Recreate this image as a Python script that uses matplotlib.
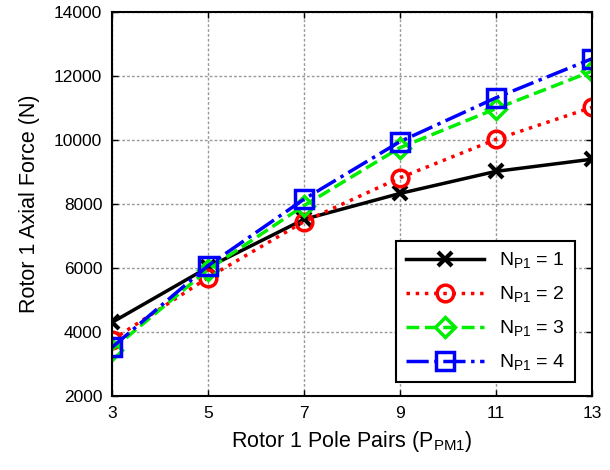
import matplotlib
matplotlib.use("Agg")
import matplotlib.pyplot as plt

plt.rcParams['font.family'] = ['Liberation Sans', 'DejaVu Sans']
plt.rcParams['mathtext.fontset'] = 'custom'
plt.rcParams['mathtext.rm'] = 'Liberation Sans'

pole_pairs = [3, 5, 7, 9, 11, 13]
force_np1 = [4300, 6020, 7520, 8330, 9020, 9400]
force_np2 = [3750, 5700, 7450, 8820, 10020, 11020]
force_np3 = [3450, 5950, 7950, 9760, 10980, 12150]
force_np4 = [3520, 6070, 8150, 9950, 11320, 12540]
labels = ['N$_\\mathregular{P1}$ = 1', 'N$_\\mathregular{P1}$ = 2',
          'N$_\\mathregular{P1}$ = 3', 'N$_\\mathregular{P1}$ = 4']
xticks = [3, 5, 7, 9, 11, 13]
yticks = [2000, 4000, 6000, 8000, 10000, 12000, 14000]

fig = plt.figure(figsize=(6.1, 4.7), dpi=100)
ax = fig.add_axes([112/610, 1-396/470, (592-112)/610, (396-12)/470])

styles = [
    dict(color='black', linestyle='-', marker='x', markersize=10, mew=3),
    dict(color='red', linestyle=':', marker='o', markersize=12, mew=2.5, mfc='none'),
    dict(color='#00ee00', linestyle='--', marker='D', markersize=10, mew=2.5, mfc='none'),
    dict(color='blue', linestyle='-.', marker='s', markersize=13, mew=2.5, mfc='none'),
]
series = [force_np1, force_np2, force_np3, force_np4]
for vals, lab, st in zip(series, labels, styles):
    ax.plot(pole_pairs, vals, linewidth=2.5, label=lab, **st)

ax.set_xlim(3, 13)
ax.set_ylim(2000, 14000)
ax.set_xticks(xticks)
ax.set_yticks(yticks)
ax.grid(True, color='#999999', linestyle=(0, (2, 1.5)), linewidth=1.0)
ax.tick_params(direction='in', top=True, right=True, labelsize=12.5, length=4, width=1, pad=7)
for s in ax.spines.values():
    s.set_linewidth(1.5)
ax.set_xlabel('Rotor 1 Pole Pairs (P$_\\mathregular{PM1}$)', fontsize=15.5, labelpad=6)
ax.set_ylabel('Rotor 1 Axial Force (N)', fontsize=15.5, labelpad=10)

leg = ax.legend(loc='lower right', fontsize=14, frameon=True, fancybox=False,
                edgecolor='black', framealpha=1, borderpad=0.5, handlelength=4.0,
                labelspacing=0.7, handletextpad=0.8,
                bbox_to_anchor=(0.985, 0.01))
leg.get_frame().set_linewidth(1.5)

fig.savefig('out.png', dpi=100)
